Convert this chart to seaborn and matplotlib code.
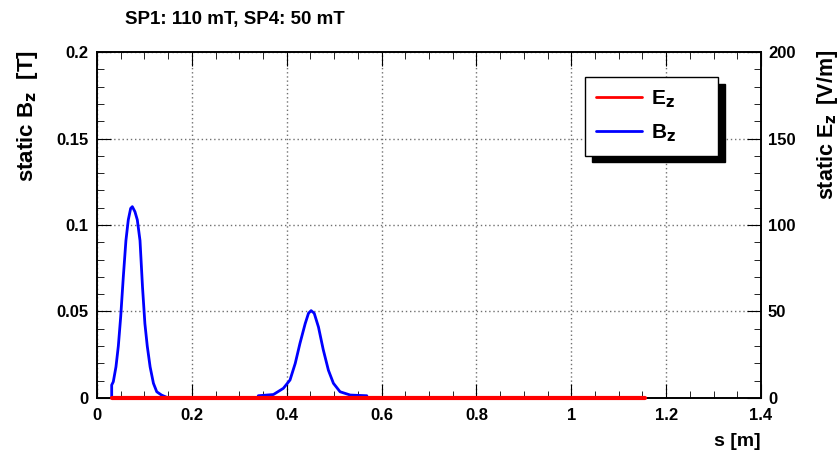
import pandas as pd
import seaborn as sns
import matplotlib.pyplot as plt
from matplotlib.ticker import MultipleLocator

# values
s_peak1 = [0.031, 0.031, 0.0344, 0.040, 0.045, 0.050, 0.0555, 0.061, 0.066, 0.071, 0.0745,
           0.080, 0.085, 0.0907, 0.096, 0.101, 0.106, 0.112, 0.119, 0.126, 0.136, 0.152, 0.213]
b_peak1 = [0.0, 0.0075, 0.0094, 0.018, 0.030, 0.047, 0.070, 0.091, 0.103, 0.1096, 0.1106,
           0.1077, 0.103, 0.091, 0.064, 0.043, 0.030, 0.018, 0.0085, 0.0036, 0.0017, -0.0002, -0.0005]
s_peak2 = [0.340, 0.372, 0.393, 0.407, 0.418, 0.428, 0.439, 0.446, 0.4515, 0.458, 0.467,
           0.477, 0.488, 0.4985, 0.5125, 0.534, 0.569]
b_peak2 = [0.0013, 0.002, 0.0056, 0.0104, 0.020, 0.0316, 0.043, 0.049, 0.0505, 0.049, 0.041,
           0.028, 0.016, 0.0085, 0.0036, 0.0017, 0.0013]
s_ez = [0.031, 1.156]
e_ez = [0.0, 0.0]

title = "SP1: 110 mT, SP4: 50 mT"

sns.set_style("ticks")
plt.rcParams['font.family'] = ['Liberation Sans', 'DejaVu Sans']
plt.rcParams['font.weight'] = 'bold'
plt.rcParams['mathtext.default'] = 'bf'
plt.rcParams['text.color'] = 'black'
plt.rcParams['axes.labelcolor'] = 'black'
plt.rcParams['xtick.color'] = 'black'
plt.rcParams['ytick.color'] = 'black'

fig = plt.figure(figsize=(8.39, 4.55), dpi=100)
ax = fig.add_axes([0.1156, 0.1253, 0.7914, 0.7604])
ax2 = ax.twinx()

df1 = pd.DataFrame({'s': s_peak1, 'B': b_peak1, 'seg': 'a'})
df2 = pd.DataFrame({'s': s_peak2, 'B': b_peak2, 'seg': 'b'})
dfb = pd.concat([df1, df2])
dfe = pd.DataFrame({'s': s_ez, 'E': e_ez})

sns.lineplot(data=dfb, x='s', y='B', units='seg', estimator=None, sort=False,
             color='#0000ff', lw=2, ax=ax, legend=False)
sns.lineplot(data=dfe, x='s', y='E', color='#ff0000', lw=3, ax=ax2, legend=False)
for ln in ax2.get_lines():
    ln.set_clip_on(False)
    ln.set_zorder(5)

ax.set_xlim(0, 1.4)
ax.set_ylim(0, 0.2)
ax2.set_ylim(0, 200)

ax.xaxis.set_minor_locator(MultipleLocator(0.05))
ax.yaxis.set_minor_locator(MultipleLocator(0.01))
ax2.yaxis.set_major_locator(MultipleLocator(50))
ax2.yaxis.set_minor_locator(MultipleLocator(10))

ax.set_xticks([0, 0.2, 0.4, 0.6, 0.8, 1.0, 1.2, 1.4])
ax.set_xticklabels(['0', '0.2', '0.4', '0.6', '0.8', '1', '1.2', '1.4'])
ax.set_yticks([0, 0.05, 0.1, 0.15, 0.2])
ax.set_yticklabels(['0', '0.05', '0.1', '0.15', '0.2'])

ax.tick_params(axis='x', which='both', direction='in', top=True, labelsize=12, pad=7)
ax.tick_params(axis='x', which='major', length=10)
ax.tick_params(axis='x', which='minor', length=5)
ax.tick_params(axis='y', which='both', direction='in', right=False, labelsize=12, pad=6)
ax.tick_params(axis='y', which='major', length=10)
ax.tick_params(axis='y', which='minor', length=5)
ax2.tick_params(axis='y', which='both', direction='in', labelsize=12, pad=5)
ax2.tick_params(axis='y', which='major', length=10)
ax2.tick_params(axis='y', which='minor', length=5)

ax.grid(True, which='major', color='#707070', linestyle=(0, (1, 2)), lw=1)

for a in (ax, ax2):
    for sp in a.spines.values():
        sp.set_linewidth(1.2)
        sp.set_color('black')

ax.set_xlabel('s [m]', fontsize=14, fontweight='bold')
ax.xaxis.set_label_coords(1.0, -0.1)
ax.xaxis.label.set_horizontalalignment('right')
ax.set_ylabel('static B$_z\\;$ [T]', fontsize=16, fontweight='bold')
ax.yaxis.set_label_coords(-0.086, 1.006)
ax.yaxis.label.set_horizontalalignment('right')
ax2.set_ylabel('static E$_z\\,$ [V/m]', fontsize=15.5, fontweight='bold')
ax2.yaxis.set_label_coords(1.081, 1.006)
ax2.yaxis.label.set_horizontalalignment('right')

fig.text(0.149, 0.958, title, fontsize=13.5, fontweight='bold', ha='left', va='center')

hE, = ax.plot([], [], color='#ff0000', lw=2, label='E$_z$')
hB, = ax.plot([], [], color='#0000ff', lw=2, label='B$_z$')
leg = ax.legend(handles=[hE, hB], loc='upper left', bbox_to_anchor=(0.735, 0.928, 0.2, 0.0),
                mode='expand', borderaxespad=0, fancybox=False, framealpha=1,
                edgecolor='black', fontsize=15,
                handlelength=2.2, borderpad=0.55, labelspacing=0.6, handletextpad=0.4,
                shadow={'color': 'black', 'alpha': 1, 'ox': 5, 'oy': -5})
leg.get_frame().set_linewidth(1.0)
leg.set_zorder(10)

fig.savefig('out.png', dpi=100)
